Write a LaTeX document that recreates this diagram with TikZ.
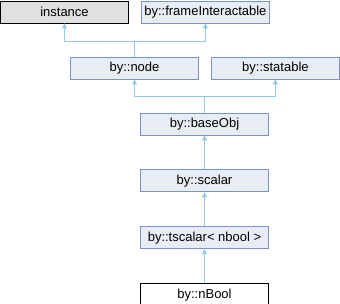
\documentclass[tikz,border=0pt]{standalone}
\usepackage{fontspec}
\setmainfont{Liberation Sans}
\usetikzlibrary{positioning, arrows.meta}
\definecolor{boxFill}{RGB}{232,236,244}
\definecolor{boxDraw}{RGB}{124,145,200}
\definecolor{extFill}{RGB}{224,224,224}
\definecolor{linkBlue}{RGB}{150,200,230}
\tikzset{
	classbox/.style={rectangle, draw=boxDraw, fill=boxFill, line width=0.9pt,
		minimum width=128pt, minimum height=22pt, inner sep=1pt,
		font=\fontsize{13}{15}\selectfont},
	inharr/.style={-{Triangle[length=5pt, width=5pt]}, draw=linkBlue, line width=0.9pt}
}
\begin{document}
\begin{tikzpicture}[x=1pt, y=1pt, node distance=34pt and 12pt]
	\useasboundingbox (0,0) rectangle (340,-304);
	\node[classbox, fill=extFill, draw=black] (instance) at (64.5,-12) {instance};
	\node[classbox, right=of instance] (frame) {by::frameInteractable};
	\node[classbox] (node) at (134.5,-68) {by::node};
	\node[classbox, right=of node] (statable) {by::statable};
	\node[classbox] (baseObj) at (204.5,-124) {by::baseObj};
	\node[classbox, below=of baseObj] (scalar) {by::scalar};
	\node[classbox, below=of scalar] (tscalar) {by::tscalar< nbool >};
	\node[classbox, below=of tscalar, fill=white, draw=black] (nBool) {by::nBool};
	% inheritance links
	\draw[inharr] (node.north) -- ++(0,15) -| (instance.south);
	\draw[inharr] (node.north) -- ++(0,15) -| (frame.south);
	\draw[inharr] (baseObj.north) -- ++(0,16) -| (node.south);
	\draw[inharr] (baseObj.north) -- ++(0,16) -| (statable.south);
	\draw[inharr] (scalar) -- (baseObj);
	\draw[inharr] (tscalar) -- (scalar);
	\draw[inharr] (nBool) -- (tscalar);
\end{tikzpicture}
\end{document}
